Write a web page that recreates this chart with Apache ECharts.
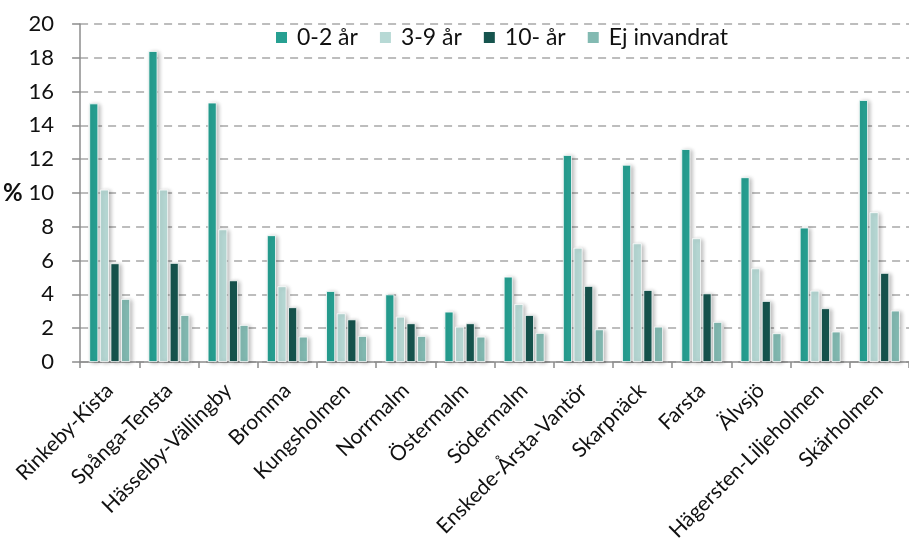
<!DOCTYPE html>
<html>
<head>
<meta charset="utf-8">
<script src="https://cdn.jsdelivr.net/npm/echarts@6/dist/echarts.min.js"></script>
<style>
  html, body { margin: 0; padding: 0; background: #fff; }
  #chart { width: 909px; height: 548px; }
</style>
</head>
<body>
<div id="chart"></div>
<script>
// stadsdelar
var categories = ['Rinkeby-Kista', 'Spånga-Tensta', 'Hässelby-Vällingby', 'Bromma', 'Kungsholmen',
  'Norrmalm', 'Östermalm', 'Södermalm', 'Enskede-Årsta-Vantör', 'Skarpnäck', 'Farsta',
  'Älvsjö', 'Hägersten-Liljeholmen', 'Skärholmen'];

var seriesNames = ['0-2 år', '3-9 år', '10- år', 'Ej invandrat'];
var ar0_2 = [15.3, 18.4, 15.35, 7.5, 4.2, 4.0, 2.98, 5.05, 12.25, 11.67, 12.6, 10.93, 7.95, 15.5];
var ar3_9 = [10.2, 10.2, 7.85, 4.48, 2.88, 2.68, 2.09, 3.43, 6.76, 7.02, 7.32, 5.54, 4.22, 8.86];
var ar10 = [5.84, 5.86, 4.83, 3.24, 2.52, 2.29, 2.29, 2.78, 4.5, 4.26, 4.06, 3.61, 3.18, 5.27];
var ejInvandrat = [3.73, 2.78, 2.19, 1.5, 1.54, 1.54, 1.5, 1.72, 1.93, 2.09, 2.37, 1.7, 1.8, 3.04];

var colors = ['#27a092', '#b7d9d5', '#16544e', '#83bab2'];
var font = 'Lato, "Open Sans", sans-serif';

var chart = echarts.init(document.getElementById('chart'));

function makeSeries(name, data, i) {
  return {
    name: name,
    type: 'bar',
    data: data,
    barWidth: 9,
    barGap: '18%',
    itemStyle: {
      color: colors[i],
      borderColor: '#ffffff',
      borderWidth: 0.8,
      shadowColor: 'rgba(0,0,0,0.28)',
      shadowBlur: 4,
      shadowOffsetX: 2,
      shadowOffsetY: 1
    }
  };
}

var option = {
  animation: false,
  color: colors,
  // högra kanten är avklippt i originalet
  grid: { left: 78, right: -8, top: 24, bottom: 186, containLabel: false },
  legend: {
    top: 26,
    left: 270,
    itemWidth: 13,
    itemHeight: 13,
    itemGap: 20,
    icon: 'rect',
    backgroundColor: '#ffffff',
    padding: [0, 4],
    textStyle: { fontFamily: font, fontSize: 23, color: '#111', padding: [0, 0, 0, 4] },
    data: seriesNames
  },
  xAxis: {
    type: 'category',
    data: categories,
    axisLine: { lineStyle: { color: '#8c8c8c', width: 1.5 } },
    axisTick: { show: true, length: 6, lineStyle: { color: '#8c8c8c', width: 1.5 } },
    axisLabel: {
      rotate: 45,
      interval: 0,
      margin: 25,
      fontFamily: font,
      fontSize: 21,
      color: '#111'
    }
  },
  yAxis: {
    type: 'value',
    min: 0,
    max: 20,
    interval: 2,
    name: '%',
    nameLocation: 'middle',
    nameRotate: 0,
    nameGap: 49,
    nameTextStyle: { fontFamily: font, fontSize: 24, fontWeight: 'bold', color: '#111' },
    axisLine: { show: true, lineStyle: { color: '#8c8c8c', width: 1.5 } },
    axisTick: { show: true, length: 8, lineStyle: { color: '#8c8c8c', width: 1.5 } },
    axisLabel: {
      margin: 26,
      fontFamily: font,
      fontSize: 22,
      color: '#111'
    },
    splitLine: { show: true, lineStyle: { color: '#bdbdbd', width: 2, type: [8, 6] } }
  },
  series: [
    makeSeries(seriesNames[0], ar0_2, 0),
    makeSeries(seriesNames[1], ar3_9, 1),
    makeSeries(seriesNames[2], ar10, 2),
    makeSeries(seriesNames[3], ejInvandrat, 3)
  ]
};

chart.setOption(option);
</script>
</body>
</html>
